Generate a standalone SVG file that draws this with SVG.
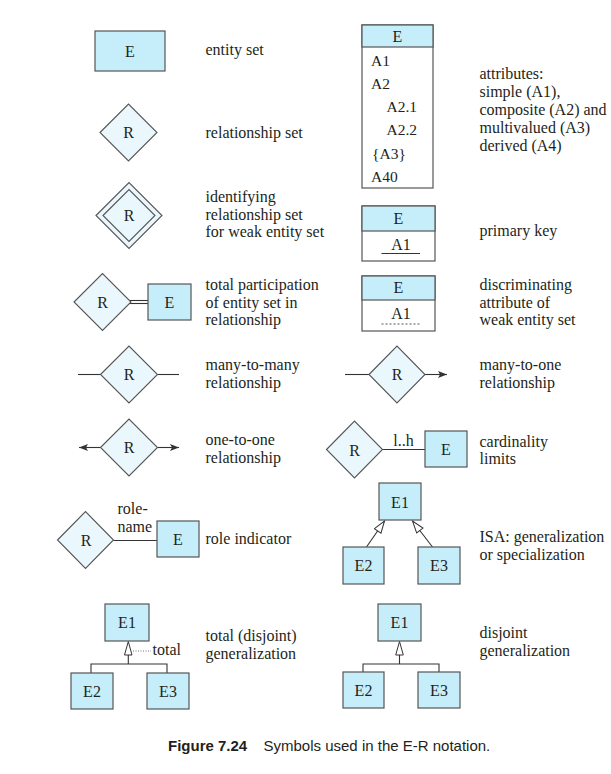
<svg xmlns="http://www.w3.org/2000/svg" width="611" height="774" viewBox="0 0 611 774">
<style>
.ent{fill:#c6edfa;stroke:#555;stroke-width:1.2}
.rel{fill:#eaf7fd;stroke:#555;stroke-width:1.1}
.box{fill:#fff;stroke:#555;stroke-width:1.2}
.ln{fill:none;stroke:#333;stroke-width:1.1}
text{font-family:"Liberation Serif","Times New Roman",serif;fill:#231f20}
.d{font-size:16px}
.l{font-size:16px;text-anchor:middle}
.a{font-size:15.5px}
.cap{font-family:"Liberation Sans",Arial,sans-serif;font-size:15px}
</style>
<defs>
<marker id="arr" markerWidth="10" markerHeight="8" refX="9" refY="3.5" orient="auto" markerUnits="userSpaceOnUse">
<path d="M0,0 L9,3.5 L0,7 L2,3.5 z" fill="#333"/>
</marker>
<marker id="hol" markerWidth="14" markerHeight="10" refX="13" refY="4.5" orient="auto" markerUnits="userSpaceOnUse">
<path d="M1,0.5 L13,4.5 L1,8.5 z" fill="#fff" stroke="#333" stroke-width="1"/>
</marker>
</defs>
<rect width="611" height="774" fill="#fff"/>

<g id="connectors">
<line class="ln" x1="129" y1="300.5" x2="148" y2="300.5"/>
<line class="ln" x1="129" y1="303.5" x2="148" y2="303.5"/>
<line class="ln" x1="78" y1="374.5" x2="100.5" y2="374.5"/>
<line class="ln" x1="157.5" y1="374.5" x2="179" y2="374.5"/>
<line class="ln" x1="100.5" y1="447.5" x2="79" y2="447.5" marker-end="url(#arr)"/>
<line class="ln" x1="157.5" y1="447.5" x2="179" y2="447.5" marker-end="url(#arr)"/>
<line class="ln" x1="345" y1="374.5" x2="369" y2="374.5"/>
<line class="ln" x1="425" y1="374.5" x2="447" y2="374.5" marker-end="url(#arr)"/>
<line class="ln" x1="382.5" y1="449.5" x2="425" y2="449.5"/>
<line class="ln" x1="113.5" y1="540.5" x2="157" y2="540.5"/>
<line class="ln" x1="366.5" y1="547" x2="384.5" y2="521" marker-end="url(#hol)"/>
<line class="ln" x1="432.5" y1="547" x2="412.5" y2="521" marker-end="url(#hol)"/>
<polyline class="ln" points="91,673 91,664 167,664 167,673"/>
<line class="ln" x1="128.3" y1="655" x2="128.3" y2="664"/>
<polygon points="128.3,641.5 124.5,655 132,655" fill="#fff" stroke="#333" stroke-width="1"/>
<line x1="133" y1="651" x2="151" y2="651" stroke="#777" stroke-width="1" stroke-dasharray="1,1.5"/>
<polyline class="ln" points="363,672 363,664 439,664 439,672"/>
<line class="ln" x1="399.5" y1="655" x2="399.5" y2="664"/>
<polygon points="399.5,641.5 395.7,655 403.3,655" fill="#fff" stroke="#333" stroke-width="1"/>
</g>

<g id="entity-set">
<rect class="ent" x="95" y="31" width="70" height="40"/>
<text class="l" x="130" y="56.5">E</text>
<text class="d" x="205.5" y="55">entity set</text>
</g>

<g id="relationship-set">
<polygon class="rel" points="100,132.5 128.5,104 157,132.5 128.5,161"/>
<text class="l" x="128.5" y="138">R</text>
<text class="d" x="205.5" y="138">relationship set</text>
</g>

<g id="identifying-relationship">
<polygon class="rel" points="96,215.5 129,182.5 162,215.5 129,248.5"/>
<polygon class="rel" points="103,215.5 129,189.5 155,215.5 129,241.5"/>
<text class="l" x="129" y="221">R</text>
<text class="d" x="205.5" y="202">identifying</text>
<text class="d" x="205.5" y="219.5">relationship set</text>
<text class="d" x="205.5" y="237">for weak entity set</text>
</g>

<g id="total-participation">
<polygon class="rel" points="74,302 102.5,273.5 131,302 102.5,330.5"/>
<text class="l" x="102.5" y="307.5">R</text>
<rect class="ent" x="148" y="284" width="43" height="36"/>
<text class="l" x="169.5" y="307.5">E</text>
<text class="d" x="205.5" y="290">total participation</text>
<text class="d" x="205.5" y="307.5">of entity set in</text>
<text class="d" x="205.5" y="325">relationship</text>
</g>

<g id="many-to-many">
<polygon class="rel" points="100.5,374.5 129,346 157.5,374.5 129,403"/>
<text class="l" x="129" y="380">R</text>
<text class="d" x="205.5" y="370">many-to-many</text>
<text class="d" x="205.5" y="387.5">relationship</text>
</g>

<g id="one-to-one">
<polygon class="rel" points="100.5,447.5 129,419 157.5,447.5 129,476"/>
<text class="l" x="129" y="453">R</text>
<text class="d" x="205.5" y="445">one-to-one</text>
<text class="d" x="205.5" y="462.5">relationship</text>
</g>

<g id="role-indicator">
<polygon class="rel" points="57.5,540 85.5,511.5 113.5,540 85.5,568.5"/>
<text class="l" x="86" y="545.5">R</text>
<rect class="ent" x="157" y="521" width="42" height="36"/>
<text class="l" x="178" y="544.5">E</text>
<text class="d" x="117.5" y="513.5">role-</text>
<text class="d" x="117.5" y="531.5">name</text>
<text class="d" x="205.5" y="544">role indicator</text>
</g>

<g id="total-generalization">
<rect class="ent" x="105" y="604" width="44" height="37"/>
<text class="l" x="127" y="627.5">E1</text>
<rect class="ent" x="71" y="673" width="42" height="36"/>
<text class="l" x="92" y="696.5">E2</text>
<rect class="ent" x="147" y="673" width="42" height="36"/>
<text class="l" x="168" y="696.5">E3</text>
<text class="d" x="152.5" y="655">total</text>
<text class="d" x="205.5" y="641">total (disjoint)</text>
<text class="d" x="205.5" y="658.5">generalization</text>
</g>

<g id="attributes">
<rect class="box" x="362" y="25" width="71" height="163"/>
<rect class="ent" x="362" y="25" width="71" height="22"/>
<text class="l" x="397.5" y="41.5">E</text>
<text class="a" x="371" y="66">A1</text>
<text class="a" x="371" y="89">A2</text>
<text class="a" x="386.5" y="112">A2.1</text>
<text class="a" x="386.5" y="135">A2.2</text>
<text class="a" x="372" y="159">{A3}</text>
<text class="a" x="371" y="182">A40</text>
<text class="d" x="479.5" y="78.5">attributes:</text>
<text class="d" x="479.5" y="96.5">simple (A1),</text>
<text class="d" x="479.5" y="114.5">composite (A2) and</text>
<text class="d" x="479.5" y="132.5">multivalued (A3)</text>
<text class="d" x="479.5" y="150.5">derived (A4)</text>
</g>

<g id="primary-key">
<rect class="box" x="362" y="206" width="73" height="55"/>
<rect class="ent" x="362" y="206" width="73" height="25"/>
<text class="l" x="398.5" y="223.5">E</text>
<text class="l" x="401" y="250">A1</text>
<line x1="381.5" y1="253.5" x2="420" y2="253.5" stroke="#333" stroke-width="1.1"/>
<text class="d" x="479.5" y="236">primary key</text>
</g>

<g id="discriminator">
<rect class="box" x="362" y="276" width="73" height="55"/>
<rect class="ent" x="362" y="276" width="73" height="24"/>
<text class="l" x="398.5" y="293">E</text>
<text class="l" x="401" y="319">A1</text>
<line x1="381.5" y1="324" x2="420" y2="324" stroke="#555" stroke-width="1" stroke-dasharray="2,2"/>
<text class="d" x="479.5" y="290">discriminating</text>
<text class="d" x="479.5" y="307.5">attribute of</text>
<text class="d" x="479.5" y="325">weak entity set</text>
</g>

<g id="many-to-one">
<polygon class="rel" points="369,374.5 397,346 425,374.5 397,403"/>
<text class="l" x="397" y="380">R</text>
<text class="d" x="479.5" y="370">many-to-one</text>
<text class="d" x="479.5" y="387.5">relationship</text>
</g>

<g id="cardinality">
<polygon class="rel" points="326.5,449.5 354.5,421 382.5,449.5 354.5,478"/>
<text class="l" x="354.5" y="456">R</text>
<rect class="ent" x="425" y="431" width="42" height="36"/>
<text class="l" x="446" y="455">E</text>
<text class="l" x="403.5" y="446">l..h</text>
<text class="d" x="479.5" y="446.5">cardinality</text>
<text class="d" x="479.5" y="464">limits</text>
</g>

<g id="isa">
<rect class="ent" x="379" y="483" width="42" height="37"/>
<text class="l" x="400" y="507.5">E1</text>
<rect class="ent" x="343" y="547" width="41" height="37"/>
<text class="l" x="363.5" y="571">E2</text>
<rect class="ent" x="418" y="547" width="42" height="37"/>
<text class="l" x="439" y="571">E3</text>
<text class="d" x="479.5" y="542">ISA: generalization</text>
<text class="d" x="479.5" y="560">or specialization</text>
</g>

<g id="disjoint-generalization">
<rect class="ent" x="378" y="604" width="43" height="37"/>
<text class="l" x="399.5" y="627.5">E1</text>
<rect class="ent" x="343" y="672" width="41" height="36"/>
<text class="l" x="363.5" y="695.5">E2</text>
<rect class="ent" x="418" y="672" width="42" height="36"/>
<text class="l" x="439" y="695.5">E3</text>
<text class="d" x="479.5" y="638">disjoint</text>
<text class="d" x="479.5" y="655.5">generalization</text>
</g>

<g id="caption">
<text class="cap" x="168" y="751"><tspan font-weight="bold">Figure 7.24</tspan><tspan x="263.5">Symbols used in the E-R notation.</tspan></text>
</g>
</svg>
